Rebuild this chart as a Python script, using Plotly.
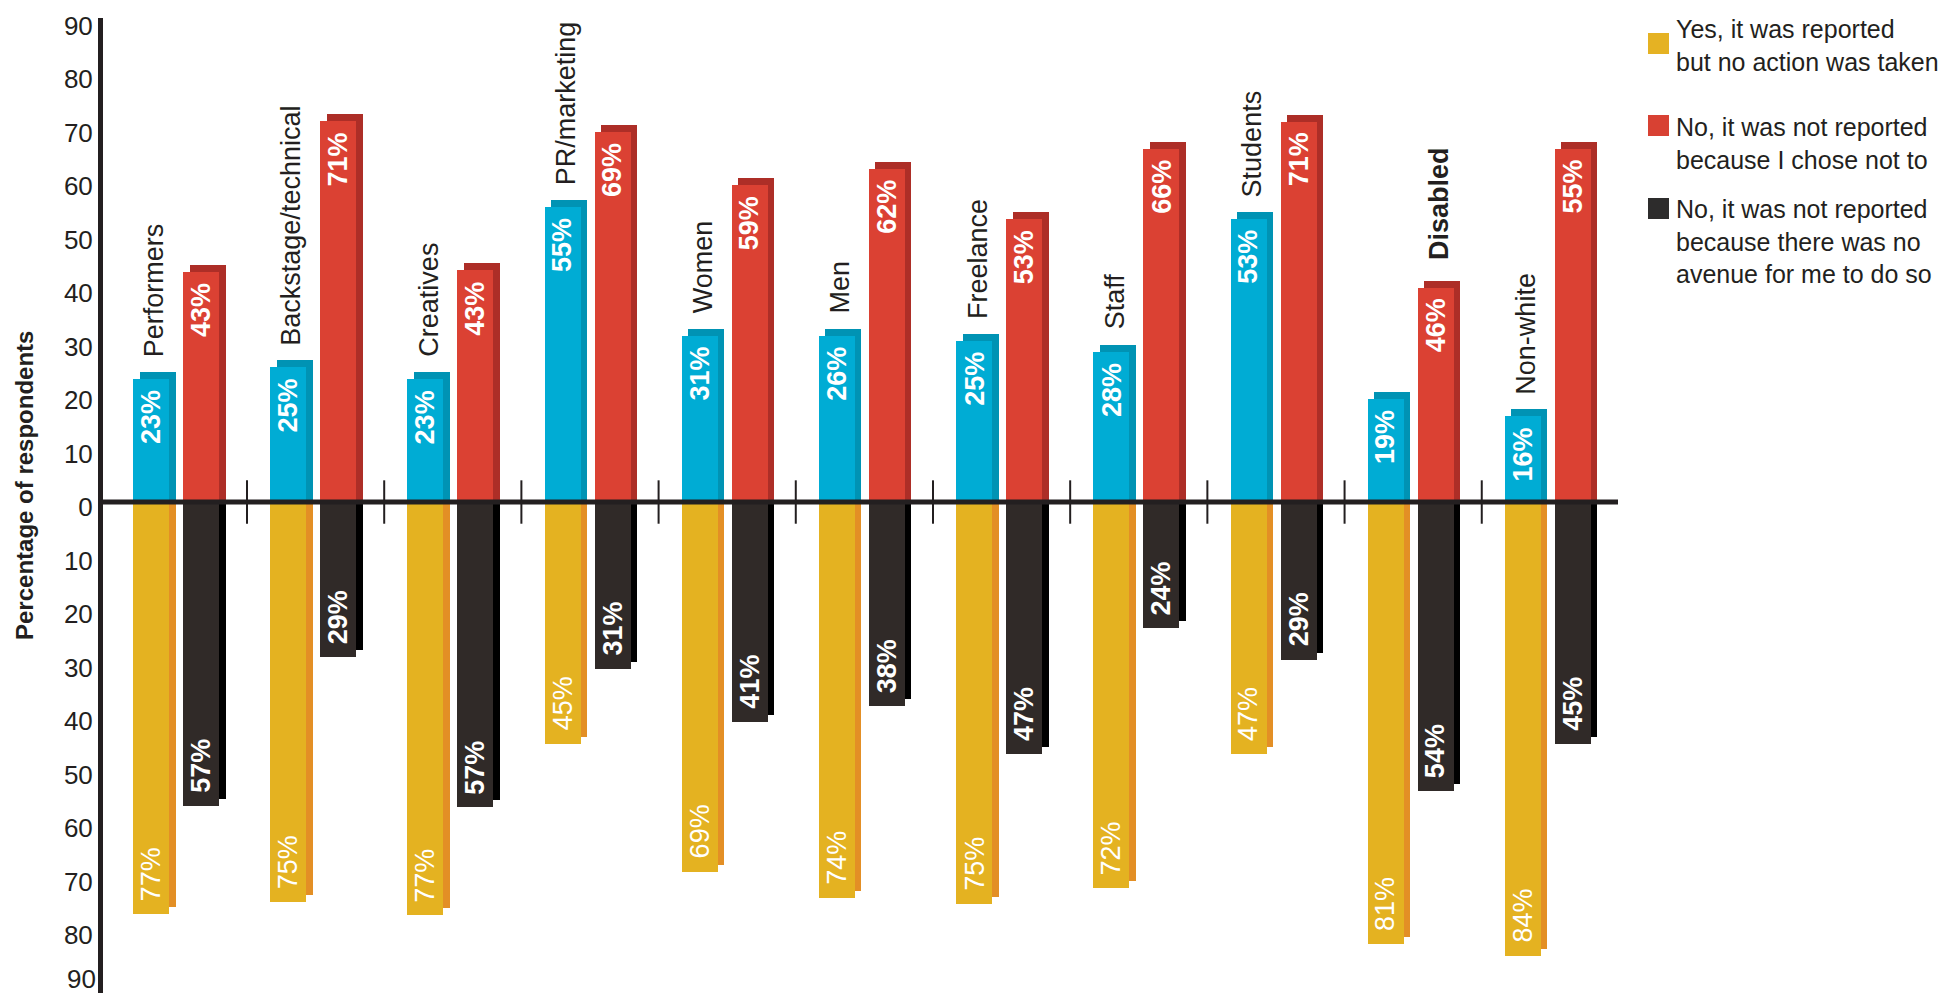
import plotly.graph_objects as go

categories = ["Performers", "Backstage/technical", "Creatives", "PR/marketing", "Women",
              "Men", "Freelance", "Staff", "Students", "Disabled", "Non-white"]

# bar heights as drawn in the picture (percentage of respondents)
blue_heights = [23.0, 25.2, 23.0, 55.1, 31.1, 31.1, 30.2, 28.1, 52.9, 19.2, 16.0]
red_heights = [43.0, 71.2, 43.3, 69.1, 59.2, 62.3, 52.9, 66.1, 71.1, 40.1, 66.1]
yellow_heights = [77.1, 74.8, 77.3, 45.2, 69.1, 74.0, 75.1, 72.2, 47.2, 82.7, 84.8]
black_heights = [56.8, 29.0, 57.1, 31.2, 41.1, 38.2, 47.1, 23.6, 29.5, 54.1, 45.2]

# printed value labels
blue_labels = [23, 25, 23, 55, 31, 26, 25, 28, 53, 19, 16]
red_labels = [43, 71, 43, 69, 59, 62, 53, 66, 71, 46, 55]
yellow_labels = [77, 75, 77, 45, 69, 74, 75, 72, 47, 81, 84]
black_labels = [57, 29, 57, 31, 41, 38, 47, 24, 29, 54, 45]

legend_names = ["Yes, it was reported<br>but no action was taken",
                "No, it was not reported<br>because I chose not to",
                "No, it was not reported<br>because there was no<br>avenue for me to do so"]

tick_vals = [-90, -80, -70, -60, -50, -40, -30, -20, -10, 0, 10, 20, 30, 40, 50, 60, 70, 80, 90]
tick_text = [str(abs(v)) for v in tick_vals]

FONT = "Liberation Sans, Arial, Helvetica, sans-serif"
INK = "#231f20"

# the page body has an 8px margin, so the figure is drawn 8px in from the window edge
BODY = 8
W, H = 1956 - BODY, 998 - BODY
ML, MT = 103 - BODY, 18 - BODY
MR = W - (1618 - BODY)
MB = H - (993 - BODY)
XR = [-0.5496, 10.493]
YR = [-91.8, 90.5]
pw = W - ML - MR
ph = H - MT - MB
px_x = (XR[1] - XR[0]) / pw
px_y = (YR[1] - YR[0]) / ph

def pxp(xp):   # window x pixel -> paper x
    return (xp - BODY - ML) / pw

def pyp(yp):   # window y pixel -> paper y
    return 1 - (yp - BODY - MT) / ph

bw = 36 * px_x          # front face width
dx = 6.5 * px_x         # 3D depth in x
dy = 7 * px_y           # 3D depth in y
off_left = -45.4 * px_x
off_right = 4.6 * px_x

x = list(range(len(categories)))

colors = {
    "blue": ("#00acd4", "#0093b4"),
    "red": ("#db4133", "#ad2e27"),
    "yellow": ("#e4b221", "#e38f25"),
    "black": ("#302a28", "#000000"),
}

fig = go.Figure()

def add_bar(vals, off, col, up):
    front, back = col
    if up:
        yb = [v + dy for v in vals]
        yf = list(vals)
    else:
        yb = [-(v - dy) for v in vals]
        yf = [-v for v in vals]
    fig.add_trace(go.Bar(x=x, y=yb, base=0, offset=off + dx, width=bw,
                         marker=dict(color=back, line=dict(width=0)),
                         showlegend=False, hoverinfo="skip"))
    return yf

fronts = []
fronts.append((add_bar(blue_heights, off_left, colors["blue"], True), off_left, colors["blue"][0]))
fronts.append((add_bar(red_heights, off_right, colors["red"], True), off_right, colors["red"][0]))
fronts.append((add_bar(yellow_heights, off_left, colors["yellow"], False), off_left, colors["yellow"][0]))
fronts.append((add_bar(black_heights, off_right, colors["black"], False), off_right, colors["black"][0]))
for yf, off, c in fronts:
    fig.add_trace(go.Bar(x=x, y=yf, base=0, offset=off, width=bw,
                         marker=dict(color=c, line=dict(width=0)),
                         showlegend=False, hoverinfo="text", hovertext=[f"{abs(v):.0f}" for v in yf]))

# group separator ticks on the zero line
fig.add_trace(go.Scatter(x=[i + 0.5 for i in x[:-1]], y=[0] * (len(x) - 1), mode="markers",
                         marker=dict(symbol="line-ns", size=31, line=dict(width=2, color=INK)),
                         showlegend=False, hoverinfo="skip"))

annotations = []
cl = off_left + bw / 2
cr = off_right + bw / 2

def val_ann(i, xc, yv, txt, up, bold=True):
    annotations.append(dict(
        x=i + xc, y=yv, xref="x", yref="y", text=f"{txt}%", showarrow=False,
        textangle=-90, xanchor="center", yanchor="top" if up else "bottom",
        yshift=-9 if up else 11,
        font=dict(family=FONT, size=27, color="white", weight="bold" if bold else "normal")))

for i in x:
    val_ann(i, cl, blue_heights[i], blue_labels[i], True)
    val_ann(i, cr, red_heights[i], red_labels[i], True)
    val_ann(i, cl, -yellow_heights[i], yellow_labels[i], False, bold=False)
    val_ann(i, cr, -black_heights[i], black_labels[i], False)

# category labels above the bars
for i, cat in enumerate(categories):
    if cat == "Disabled":
        xc, top, bold, ys = cr + dx / 2, red_heights[i] + dy, "bold", 18
    else:
        xc, top, bold, ys = cl + dx / 2, blue_heights[i] + dy, "normal", 13
    annotations.append(dict(
        x=i + xc, y=top, xref="x", yref="y", text=cat, showarrow=False,
        textangle=-90, xanchor="center", yanchor="bottom", yshift=ys,
        font=dict(family=FONT, size=27, color=INK, weight=bold)))

# lowest tick label kept inside the page: drawn as an annotation at its tick value
annotations.append(dict(
    x=pxp(97), y=tick_vals[0], xref="paper", yref="y", text=tick_text[0], showarrow=False,
    xanchor="right", yanchor="bottom", yshift=-12, borderpad=0,
    font=dict(family=FONT, size=26, color=INK)))

# y-axis title
annotations.append(dict(
    x=pxp(24), y=pyp(486), xref="paper", yref="paper",
    text="Percentage of respondents", showarrow=False, textangle=-90,
    xanchor="center", yanchor="middle",
    font=dict(family=FONT, size=24, color=INK, weight="bold")))

# legend (manual)
legend_colors = ["#e5b223", "#d84133", "#2d2c2c"]
sq_tops = [33, 115, 198]
txt_tops = [13, 111, 193]
shapes = []
for name, c, st, tt in zip(legend_names, legend_colors, sq_tops, txt_tops):
    shapes.append(dict(type="rect", xref="paper", yref="paper",
                       x0=pxp(1648), x1=pxp(1669), y0=pyp(st), y1=pyp(st + 21),
                       fillcolor=c, line=dict(width=0)))
    annotations.append(dict(
        x=pxp(1674), y=pyp(tt), xref="paper", yref="paper",
        text=name, showarrow=False, xanchor="left", yanchor="top", align="left",
        font=dict(family=FONT, size=25, color=INK)))

# zero line above bars
shapes.append(dict(type="line", xref="paper", yref="y", x0=0, x1=1, y0=0, y1=0,
                   line=dict(color=INK, width=5), layer="above"))

fig.update_layout(
    width=W, height=H,
    margin=dict(l=ML, r=MR, t=MT, b=MB, pad=0, autoexpand=False),
    paper_bgcolor="white", plot_bgcolor="white",
    barmode="overlay", bargap=0,
    showlegend=False,
    annotations=annotations, shapes=shapes,
    xaxis=dict(range=XR, showgrid=False, zeroline=False, showticklabels=False,
               showline=False, ticks="", fixedrange=True, automargin=False),
    yaxis=dict(range=YR, tickvals=tick_vals[1:], ticktext=tick_text[1:], showgrid=False,
               zeroline=False, showline=True, linewidth=5, linecolor=INK,
               ticks="", tickfont=dict(family=FONT, size=26, color=INK),
               ticklabelshift=5, automargin=False,
               layer="above traces", fixedrange=True),
)

fig.write_html("out.html")
